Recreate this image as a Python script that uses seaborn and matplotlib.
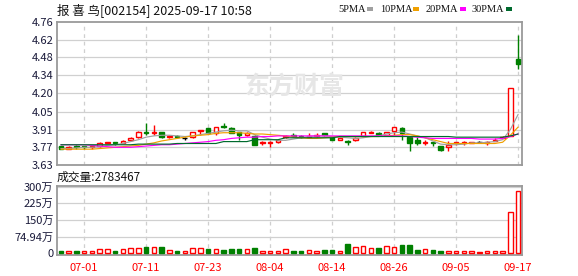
import matplotlib
matplotlib.use("Agg")
import matplotlib.pyplot as plt
from matplotlib.patches import Rectangle
import numpy as np
import seaborn as sns

sns.set_style("white")
plt.rcParams['font.family'] = ['Noto Sans CJK SC', 'DejaVu Sans']

# ---------------- data ----------------
opens  = [3.78,3.76,3.78,3.78,3.77,3.78,3.80,3.81,3.80,3.83,
          3.85,3.89,3.88,3.89,3.85,3.86,3.84,3.85,3.90,3.92,
          3.88,3.94,3.92,3.89,3.87,3.86,3.80,3.80,3.81,3.85,
          3.87,3.86,3.85,3.86,3.88,3.85,3.83,3.82,3.83,3.86,
          3.88,3.88,3.87,3.90,3.92,3.85,3.83,3.805,3.81,3.78,
          3.77,3.80,3.805,3.80,3.81,3.805,3.82,3.84,3.86,4.47]
highs  = [3.78,3.78,3.79,3.78,3.78,3.81,3.81,3.81,3.83,3.85,
          3.90,3.96,3.95,3.89,3.87,3.87,3.85,3.89,3.91,3.92,
          3.93,3.96,3.93,3.89,3.89,3.87,3.82,3.82,3.83,3.87,
          3.88,3.87,3.88,3.88,3.88,3.86,3.85,3.83,3.85,3.89,
          3.90,3.89,3.89,3.93,3.93,3.86,3.85,3.83,3.81,3.78,
          3.82,3.81,3.82,3.81,3.82,3.82,3.84,3.86,4.24,4.66]
lows   = [3.76,3.76,3.76,3.76,3.76,3.77,3.80,3.79,3.80,3.82,
          3.84,3.87,3.87,3.84,3.84,3.84,3.83,3.84,3.87,3.88,
          3.87,3.92,3.88,3.83,3.86,3.79,3.79,3.77,3.80,3.84,
          3.85,3.84,3.84,3.85,3.86,3.83,3.83,3.79,3.82,3.85,
          3.88,3.86,3.87,3.87,3.83,3.74,3.79,3.79,3.78,3.74,
          3.74,3.79,3.79,3.80,3.80,3.79,3.82,3.84,3.86,4.39]
closes = [3.76,3.77,3.77,3.77,3.78,3.80,3.81,3.80,3.82,3.84,
          3.89,3.88,3.89,3.85,3.86,3.85,3.84,3.89,3.91,3.88,
          3.93,3.93,3.88,3.87,3.88,3.79,3.81,3.81,3.83,3.86,
          3.86,3.85,3.86,3.87,3.87,3.83,3.84,3.81,3.84,3.89,
          3.89,3.87,3.89,3.93,3.88,3.80,3.80,3.81,3.80,3.75,
          3.79,3.81,3.81,3.81,3.81,3.81,3.83,3.85,4.24,4.43]
# volume in 万 (10k shares)
volumes = [12,10,12,10,10,19,19,12,19,24,
           24,30,30,30,15,12,10,24,24,21,
           19,16,21,21,21,25,10,10,10,19,
           12,12,15,9,15,15,9,42,27,31,
           24,24,34,27,37,37,15,18,15,9,
           12,9,9,9,6,12,12,12,187,278.3467]
# volume bar direction (1 = up / red hollow, 0 = down / green filled)
vol_up = [0,1,0,1,1,1,1,0,1,1,
          1,0,1,0,1,0,1,1,1,0,
          1,0,0,0,1,0,1,1,1,1,
          0,0,1,1,0,0,1,0,1,1,
          1,0,1,1,0,0,0,1,0,0,
          1,1,1,1,1,1,1,1,1,1]
ma5  = [3.76,3.76,3.765,3.77,3.77,3.775,3.785,3.79,3.80,3.815,
        3.83,3.85,3.86,3.865,3.865,3.86,3.855,3.86,3.87,3.88,
        3.89,3.90,3.905,3.90,3.90,3.87,3.85,3.835,3.825,3.825,
        3.835,3.845,3.855,3.86,3.86,3.855,3.85,3.845,3.84,3.845,
        3.855,3.86,3.875,3.885,3.89,3.875,3.86,3.845,3.82,3.795,
        3.79,3.79,3.795,3.805,3.805,3.81,3.815,3.83,3.91,4.03]
ma10 = [3.755,3.755,3.755,3.755,3.755,3.76,3.765,3.77,3.775,3.78,
        3.785,3.795,3.805,3.82,3.83,3.84,3.85,3.86,3.865,3.87,
        3.88,3.885,3.885,3.885,3.88,3.875,3.875,3.87,3.865,3.86,
        3.85,3.845,3.84,3.84,3.845,3.85,3.855,3.855,3.855,3.855,
        3.855,3.855,3.86,3.865,3.87,3.87,3.86,3.845,3.83,3.815,
        3.80,3.80,3.80,3.80,3.80,3.80,3.80,3.81,3.865,3.93]
ma20 = [3.79,3.79,3.79,3.79,3.785,3.78,3.775,3.77,3.77,3.77,
        3.775,3.78,3.785,3.79,3.79,3.795,3.80,3.805,3.81,3.815,
        3.825,3.83,3.84,3.845,3.85,3.85,3.855,3.855,3.86,3.86,
        3.86,3.86,3.86,3.86,3.86,3.86,3.86,3.86,3.86,3.86,
        3.86,3.86,3.86,3.86,3.86,3.855,3.85,3.845,3.84,3.84,
        3.84,3.84,3.84,3.84,3.835,3.835,3.835,3.84,3.855,3.875]
ma30 = [3.79,3.79,3.79,3.79,3.79,3.79,3.79,3.79,3.79,3.79,
        3.795,3.795,3.795,3.795,3.795,3.80,3.80,3.80,3.80,3.80,
        3.80,3.815,3.815,3.815,3.815,3.83,3.83,3.83,3.83,3.845,
        3.845,3.845,3.845,3.845,3.845,3.845,3.855,3.855,3.855,3.855,
        3.855,3.855,3.855,3.855,3.855,3.855,3.855,3.855,3.855,3.855,
        3.855,3.85,3.85,3.85,3.85,3.85,3.85,3.85,3.86,3.875]
tick_pos    = [3, 11, 19, 27, 35, 43, 51, 59]
tick_labels = ["07-01","07-11","07-23","08-04","08-14","08-26","09-05","09-17"]
price_ticks = [3.63,3.77,3.91,4.05,4.20,4.34,4.48,4.62,4.76]
vol_ticks   = [0, 74.94, 150, 225, 300]
vol_tick_labels = ["0", "74.94万", "150万", "225万", "300万"]
ma_names  = ["5PMA", "10PMA", "20PMA", "30PMA"]
ma_colors = ["#a0a0a0", "#f0a000", "#ff00ff", "#006a2e"]
title = "报 喜 鸟[002154] 2025-09-17 10:58"
vol_title = "成交量:2783467"

RED = "#ff0000"
GREEN = "#008000"

W, H = 578, 276
fig = plt.figure(figsize=(W/100, H/100), dpi=100)
fig.patch.set_facecolor("white")
axp = fig.add_axes([57/W, 1-165/H, 465/W, 143/H])
axv = fig.add_axes([57/W, 1-255/H, 465/W, 69/H])

n = len(opens)
idx = np.arange(n)

def style_ax(ax):
    for s in ax.spines.values():
        s.set_color("#9a9a9a")
        s.set_linewidth(1.3)
    ax.set_xlim(-0.5, n-0.5)
    ax.set_xticks(tick_pos)
    for p in tick_pos:
        ax.axvline(p, color="#cfcfcf", lw=0.9, ls=(0, (3, 3)), zorder=0)
    ax.tick_params(length=0, labelsize=8, pad=2.5, colors="#1a1a3a")

style_ax(axp)
style_ax(axv)

# price panel
axp.set_ylim(3.63, 4.76)
axp.set_yticks(price_ticks)
axp.set_yticklabels([f"{t:.2f}" for t in price_ticks])
for t in price_ticks[1:-1]:
    axp.axhline(t, color="#d0d0d0", lw=0.9, zorder=0)
axp.set_xticklabels([])

axp.text(0.51, 0.55, "东方财富", transform=axp.transAxes, ha="center", va="center",
         fontsize=18, fontweight="bold", color="#e6e6e6", zorder=0.5)

for i in idx:
    o, h, l, c = opens[i], highs[i], lows[i], closes[i]
    if c > o:
        col = RED
    elif c < o:
        col = GREEN
    else:
        col = "#000000"
    axp.vlines(i, l, h, color=col, lw=1.0, zorder=3)
    if c == o:
        axp.hlines(o, i-0.32, i+0.32, color=col, lw=1.0, zorder=4)
    else:
        bot = min(o, c)
        hgt = max(abs(c-o), 0.006)
        fc = "white" if c > o else GREEN
        axp.bar(i, hgt, bottom=bot, width=0.6, facecolor=fc, edgecolor=col,
                linewidth=1.0, zorder=4)

for vals, colr in zip([ma5, ma10, ma20, ma30], ma_colors):
    sns.lineplot(x=idx, y=vals, ax=axp, color=colr, lw=0.85, legend=False, zorder=5)
axp.set_ylabel("")
axp.set_xlabel("")

# volume panel
axv.set_ylim(-7.6, 302.7)
axv.set_yticks(vol_ticks)
axv.set_yticklabels(vol_tick_labels)
for t in vol_ticks[1:]:
    axv.axhline(t, color="#d0d0d0", lw=0.9, zorder=0)
axv.set_xticklabels(tick_labels, color=RED)
axv.tick_params(axis="x", colors=RED, pad=6)
for i in idx:
    if vol_up[i]:
        axv.bar(i, volumes[i], width=0.6, facecolor="white", edgecolor=RED,
                linewidth=1.0, zorder=3)
    else:
        axv.bar(i, volumes[i], width=0.6, facecolor=GREEN, edgecolor=GREEN,
                linewidth=1.0, zorder=3)

# texts
fig.text(57/W, 1-10/H, title, fontsize=9, ha="left", va="center", color="#111111")
fig.text(57/W, 1-177/H, vol_title, fontsize=8.5, ha="left", va="center", color="#111111")

leg_x = [338, 380, 426, 472]
sw_x = [367, 413, 460, 506]
for name, colr, lx, sx in zip(ma_names, ma_colors, leg_x, sw_x):
    fig.text(lx/W, 1-9/H, name, fontsize=7.5, ha="left", va="center",
             color="#111111", family=["Liberation Serif", "DejaVu Serif"])
    fig.patches.append(Rectangle((sx/W, 1-11/H), 6/W, 4/H, transform=fig.transFigure,
                                 facecolor=colr, edgecolor="none"))

fig.savefig("out.png", dpi=100, facecolor="white")
